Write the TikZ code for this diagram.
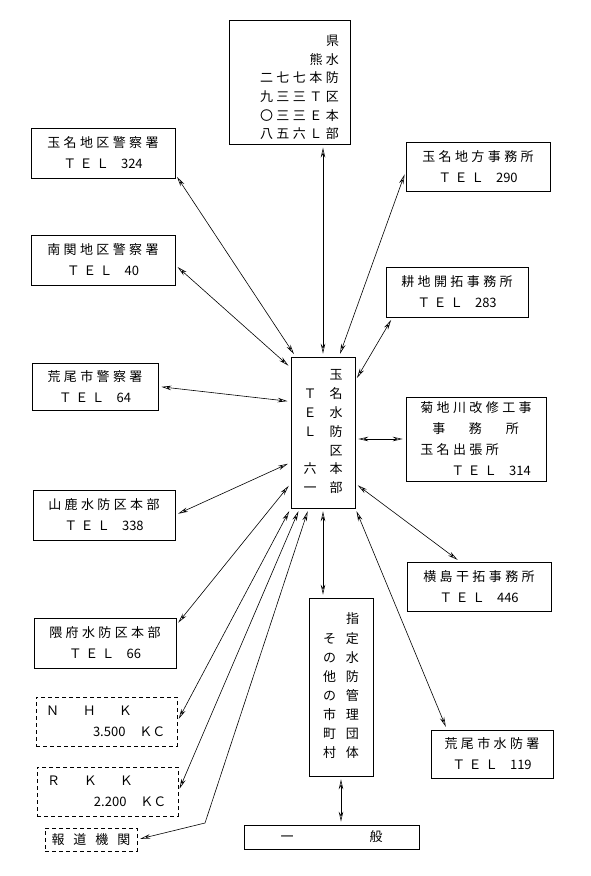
\documentclass[tikz,border=0pt]{standalone}
\usepackage{fontspec}
\setmainfont{Noto Sans CJK JP}
\newfontfamily\spaced[LetterSpace=26]{Noto Sans CJK JP}
\usetikzlibrary{arrows.meta}
\newcommand\tel[1]{{\spaced ＴＥＬ}\hspace{12pt}#1}

\begin{document}
\begin{tikzpicture}[x=1pt,y=-1pt,
    box/.style={draw,line width=0.7pt,inner sep=0pt,align=center,font=\fontsize{13}{21}\selectfont},
    media/.style={box,dash pattern=on 4pt off 3pt},
    link/.style={line width=0.6pt,{Stealth[open,length=10pt,width=4.5pt]}-{Stealth[open,length=10pt,width=4.5pt]},shorten <=3pt,shorten >=3pt}]
    \useasboundingbox (0,0) rectangle (590,876);

    % centre
    \node[box,minimum width=64pt,minimum height=151pt,font=\fontsize{13}{18.8}\selectfont] (hq) at (323,432.5)
        {\begin{tabular}{@{}c@{\hspace{13pt}}c@{}}
         & 玉\\ Ｔ & 名\\ Ｅ & 水\\ Ｌ & 防\\ & 区\\ 六 & 本\\ 一 & 部
         \end{tabular}};
    \node[box,minimum width=121pt,minimum height=121pt,font=\fontsize{13}{18.6}\selectfont] (pref) at (289.5,82.5)
        {\begin{tabular}{@{\hspace{20pt}}*{4}{c@{\hspace{3.5pt}}}c@{}}
         &&&&\rule{0pt}{25pt}県\\ &&&熊&水\\ 二&七&七&本&防\\ 九&三&三&Ｔ&区\\ 〇&三&三&Ｅ&本\\ 八&五&六&Ｌ&部
         \end{tabular}};

    % left side
    \node[box,minimum width=144pt,minimum height=50pt] (pol_1) at (103,153) {{\spaced 玉名地区警察署}\\\tel{324}};
    \node[box,minimum width=144pt,minimum height=50pt] (pol_2) at (103,260) {{\spaced 南関地区警察署}\\\tel{40}};
    \node[box,minimum width=126pt,minimum height=47pt] (pol_3) at (95,386.5) {{\spaced 荒尾市警察署}\\\tel{64}};
    \node[box,minimum width=142pt,minimum height=50pt] (ward_1) at (104,515) {{\spaced 山鹿水防区本部}\\\tel{338}};
    \node[box,minimum width=142pt,minimum height=50pt] (ward_2) at (105,643) {{\spaced 隈府水防区本部}\\\tel{66}};
    \node[media,minimum width=141pt,minimum height=49pt,text width=127pt,align=left] (nhk) at (106.5,721.5)
        {\hspace*{3pt}Ｎ\hspace{24pt}Ｈ\hspace{23pt}Ｋ\\\hspace*{50pt}3.500\hspace{14pt}ＫＣ};
    \node[media,minimum width=141pt,minimum height=49pt,text width=127pt,align=left] (rkk) at (107.5,791.5)
        {\hspace*{3pt}Ｒ\hspace{24pt}Ｋ\hspace{23pt}Ｋ\\\hspace*{50pt}2.200\hspace{14pt}ＫＣ};
    \node[media,minimum width=92pt,minimum height=23pt] (press) at (91,839.5) {報\hspace{9pt}道\hspace{9pt}機\hspace{9pt}関};

    % bottom
    \node[box,minimum width=64pt,minimum height=178pt,font=\fontsize{13}{19.1}\selectfont] (towns) at (341,687)
        {\begin{tabular}{@{}c@{\hspace{10pt}}c@{}}
         & 指\\ そ & 定\\ の & 水\\ 他 & 防\\ の & 管\\ 市 & 理\\ 町 & 団\\ 村 & 体
         \end{tabular}};
    \node[box,minimum width=175pt,minimum height=24pt] (public) at (331.5,837) {一\hspace{76pt}般};

    % right side
    \node[box,minimum width=144pt,minimum height=49pt] (off_1) at (478,166.5) {{\spaced 玉名地方事務所}\\\tel{290}};
    \node[box,minimum width=142pt,minimum height=50pt] (off_2) at (457,292) {{\spaced 耕地開拓事務所}\\\tel{283}};
    \node[box,minimum width=140pt,minimum height=84pt,align=left] (off_3) at (476,439)
        {{\spaced 菊地川改修工事}\\
         \hspace*{12pt}事\hspace{23.5pt}務\hspace{24pt}所\\
         {\spaced 玉名出張所}\\
         \hspace*{31pt}\tel{314}};
    \node[box,minimum width=144pt,minimum height=49pt] (off_4) at (479,586.5) {{\spaced 横島干拓事務所}\\\tel{446}};
    \node[box,minimum width=122pt,minimum height=48pt] (off_5) at (492,754) {{\spaced 荒尾市水防署}\\\tel{119}};

    \coordinate (kink) at (205,823);

    \path[link]
        (hq.north) edge (hq.north |- pref.south)
        ([xshift=5pt]hq.north west) edge ([yshift=4pt]pol_1.south east)
        ([yshift=-11pt]hq.north west) edge ([yshift=-5pt]pol_2.east)
        ([yshift=31pt]hq.west) edge (pol_3.east)
        ([yshift=-30pt]hq.west) edge (ward_1.east)
        ([yshift=-51pt]hq.west) edge ([yshift=18pt]ward_2.east)
        (hq.south west) edge (nhk.east)
        ([xshift=9pt]hq.south west) edge (rkk.east)
        (hq.south) edge (hq.south |- towns.north)
        (towns.south) edge (towns.south |- public.north)
        ([xshift=16pt]hq.north) edge ([yshift=-5pt]off_1.west)
        ([yshift=-24pt]hq.north east) edge ([xshift=7pt]off_2.south west)
        (off_3.west -| hq.east) edge (off_3.west)
        ([yshift=-51pt]hq.east) edge ([xshift=-19pt]off_4.north)
        (hq.south east) edge ([xshift=-45pt]off_5.north);
    \draw[link] ([xshift=18pt]hq.south west) -- (kink) -- (press.east);
\end{tikzpicture}
\end{document}
